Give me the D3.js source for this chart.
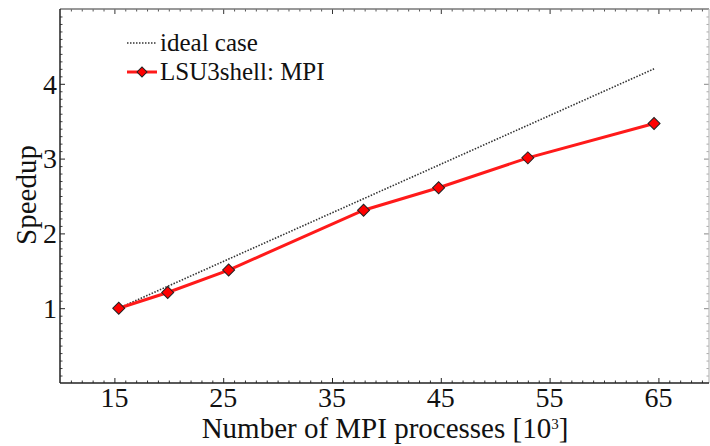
<!DOCTYPE html>
<html>
<head>
<meta charset="utf-8">
<script src="https://cdn.jsdelivr.net/npm/d3@7"></script>
<style>
  body { margin: 0; background: #fff; }
  svg { display: block; font-family: "Liberation Serif", "DejaVu Serif", serif; }
</style>
</head>
<body>
<div id="chart"></div>
<script>
// Data
const processes = [15.4, 19.9, 25.5, 37.9, 44.8, 53.0, 64.6];   // MPI processes [10^3]
const speedup   = [1.0, 1.21, 1.51, 2.31, 2.61, 3.01, 3.47];
const idealX = [15.4, 64.6];
const idealY = [1.0, 4.2];
const xTicks = [15, 25, 35, 45, 55, 65];
const yTicks = [1, 2, 3, 4];

const width = 710, height = 446;
const plotLeft = 60, plotRight = 709, plotTop = 9, plotBottom = 383;

const svg = d3.select("#chart").append("svg")
    .attr("width", width)
    .attr("height", height);

const x = d3.scaleLinear().domain([10, 69.65]).range([plotLeft, plotRight]);
const y = d3.scaleLinear().domain([0, 5]).range([plotBottom, plotTop]);

const minorX = d3.range(11, 70).filter(v => !xTicks.includes(v));
const minorY = d3.range(1, 50).map(v => v / 10).filter(v => !yTicks.includes(v));

function styleAxis(g, color) {
    g.select(".domain").remove();
    g.selectAll("line").attr("stroke", color).attr("stroke-width", 1);
    g.selectAll("text").remove();
}

// bottom axis (ticks pointing inward)
svg.append("g").attr("transform", `translate(0,${plotBottom})`)
    .call(d3.axisBottom(x).tickValues(minorX).tickSize(-2.5).tickFormat(""))
    .call(g => styleAxis(g, "#333"));
svg.append("g").attr("transform", `translate(0,${plotBottom})`)
    .call(d3.axisBottom(x).tickValues(xTicks).tickSize(-5).tickFormat(""))
    .call(g => styleAxis(g, "#222"));
// top axis
svg.append("g").attr("transform", `translate(0,${plotTop})`)
    .call(d3.axisTop(x).tickValues(minorX).tickSize(-2.5).tickFormat(""))
    .call(g => styleAxis(g, "#555"));
svg.append("g").attr("transform", `translate(0,${plotTop})`)
    .call(d3.axisTop(x).tickValues(xTicks).tickSize(-5).tickFormat(""))
    .call(g => styleAxis(g, "#333"));
// left axis
svg.append("g").attr("transform", `translate(${plotLeft},0)`)
    .call(d3.axisLeft(y).tickValues(minorY).tickSize(-2.5).tickFormat(""))
    .call(g => styleAxis(g, "#444"));
svg.append("g").attr("transform", `translate(${plotLeft},0)`)
    .call(d3.axisLeft(y).tickValues(yTicks).tickSize(-5).tickFormat(""))
    .call(g => styleAxis(g, "#222"));
// right axis
svg.append("g").attr("transform", `translate(${plotRight},0)`)
    .call(d3.axisRight(y).tickValues(minorY).tickSize(-2.5).tickFormat(""))
    .call(g => styleAxis(g, "#aaa"));
svg.append("g").attr("transform", `translate(${plotRight},0)`)
    .call(d3.axisRight(y).tickValues(yTicks).tickSize(-5).tickFormat(""))
    .call(g => styleAxis(g, "#888"));

// frame
svg.append("line").attr("x1", plotLeft).attr("x2", plotRight).attr("y1", plotTop).attr("y2", plotTop)
    .attr("stroke", "#777").attr("stroke-width", 1.5);
svg.append("line").attr("x1", plotRight).attr("x2", plotRight).attr("y1", plotTop).attr("y2", plotBottom)
    .attr("stroke", "#bbb").attr("stroke-width", 1.2);
svg.append("line").attr("x1", plotLeft).attr("x2", plotRight).attr("y1", plotBottom).attr("y2", plotBottom)
    .attr("stroke", "#222").attr("stroke-width", 1.5);
svg.append("line").attr("x1", plotLeft).attr("x2", plotLeft).attr("y1", plotTop).attr("y2", plotBottom)
    .attr("stroke", "#222").attr("stroke-width", 1.5);

// tick labels
svg.append("g").selectAll("text")
    .data(xTicks)
    .join("text")
    .attr("x", d => x(d))
    .attr("y", 407)
    .attr("text-anchor", "middle")
    .attr("font-size", 28)
    .attr("fill", "#111")
    .text(d => d);

svg.append("g").selectAll("text")
    .data(yTicks)
    .join("text")
    .attr("x", 57)
    .attr("y", d => y(d))
    .attr("dy", "0.35em")
    .attr("text-anchor", "end")
    .attr("font-size", 28)
    .attr("fill", "#111")
    .text(d => d);

// axis titles
const xt = svg.append("text")
    .attr("x", 385)
    .attr("y", 438)
    .attr("text-anchor", "middle")
    .attr("font-size", 29)
    .attr("fill", "#111");
xt.append("tspan").text("Number of MPI processes [10");
xt.append("tspan").attr("font-size", 15).attr("dy", -9).text("3");
xt.append("tspan").attr("dy", 9).text("]");

svg.append("text")
    .attr("transform", "translate(36,195) rotate(-90)")
    .attr("text-anchor", "middle")
    .attr("font-size", 29)
    .attr("fill", "#111")
    .text("Speedup");

// ideal line
const ideal = idealX.map((v, i) => [v, idealY[i]]);
svg.append("path")
    .datum(ideal)
    .attr("fill", "none")
    .attr("stroke", "#333")
    .attr("stroke-width", 1.6)
    .attr("stroke-dasharray", "1.5,1.5")
    .attr("d", d3.line().x(d => x(d[0])).y(d => y(d[1])));

// measured line
const pts = processes.map((v, i) => [v, speedup[i]]);
svg.append("path")
    .datum(pts)
    .attr("fill", "none")
    .attr("stroke", "#ff1a1a")
    .attr("stroke-width", 3)
    .attr("d", d3.line().x(d => x(d[0])).y(d => y(d[1])));

const diamond = d3.symbol().type(d3.symbolSquare).size(72);
svg.append("g").selectAll("path")
    .data(pts)
    .join("path")
    .attr("d", diamond)
    .attr("transform", d => `translate(${x(d[0])},${y(d[1])}) rotate(45)`)
    .attr("fill", "#ff0000")
    .attr("stroke", "#222")
    .attr("stroke-width", 1);

// legend
const legend = svg.append("g");
legend.append("line")
    .attr("x1", 127).attr("x2", 157).attr("y1", 43).attr("y2", 43)
    .attr("stroke", "#333").attr("stroke-width", 1.6)
    .attr("stroke-dasharray", "1.5,1.5");
legend.append("text")
    .attr("x", 160).attr("y", 51)
    .attr("font-size", 25).attr("fill", "#111")
    .text("ideal case");
legend.append("line")
    .attr("x1", 127).attr("x2", 157).attr("y1", 72).attr("y2", 72)
    .attr("stroke", "#ff1a1a").attr("stroke-width", 3);
legend.append("path")
    .attr("d", d3.symbol().type(d3.symbolSquare).size(50))
    .attr("transform", "translate(142,72) rotate(45)")
    .attr("fill", "#ff0000").attr("stroke", "#222").attr("stroke-width", 1);
legend.append("text")
    .attr("x", 160).attr("y", 80)
    .attr("font-size", 25).attr("fill", "#111")
    .text("LSU3shell: MPI");
</script>
</body>
</html>
